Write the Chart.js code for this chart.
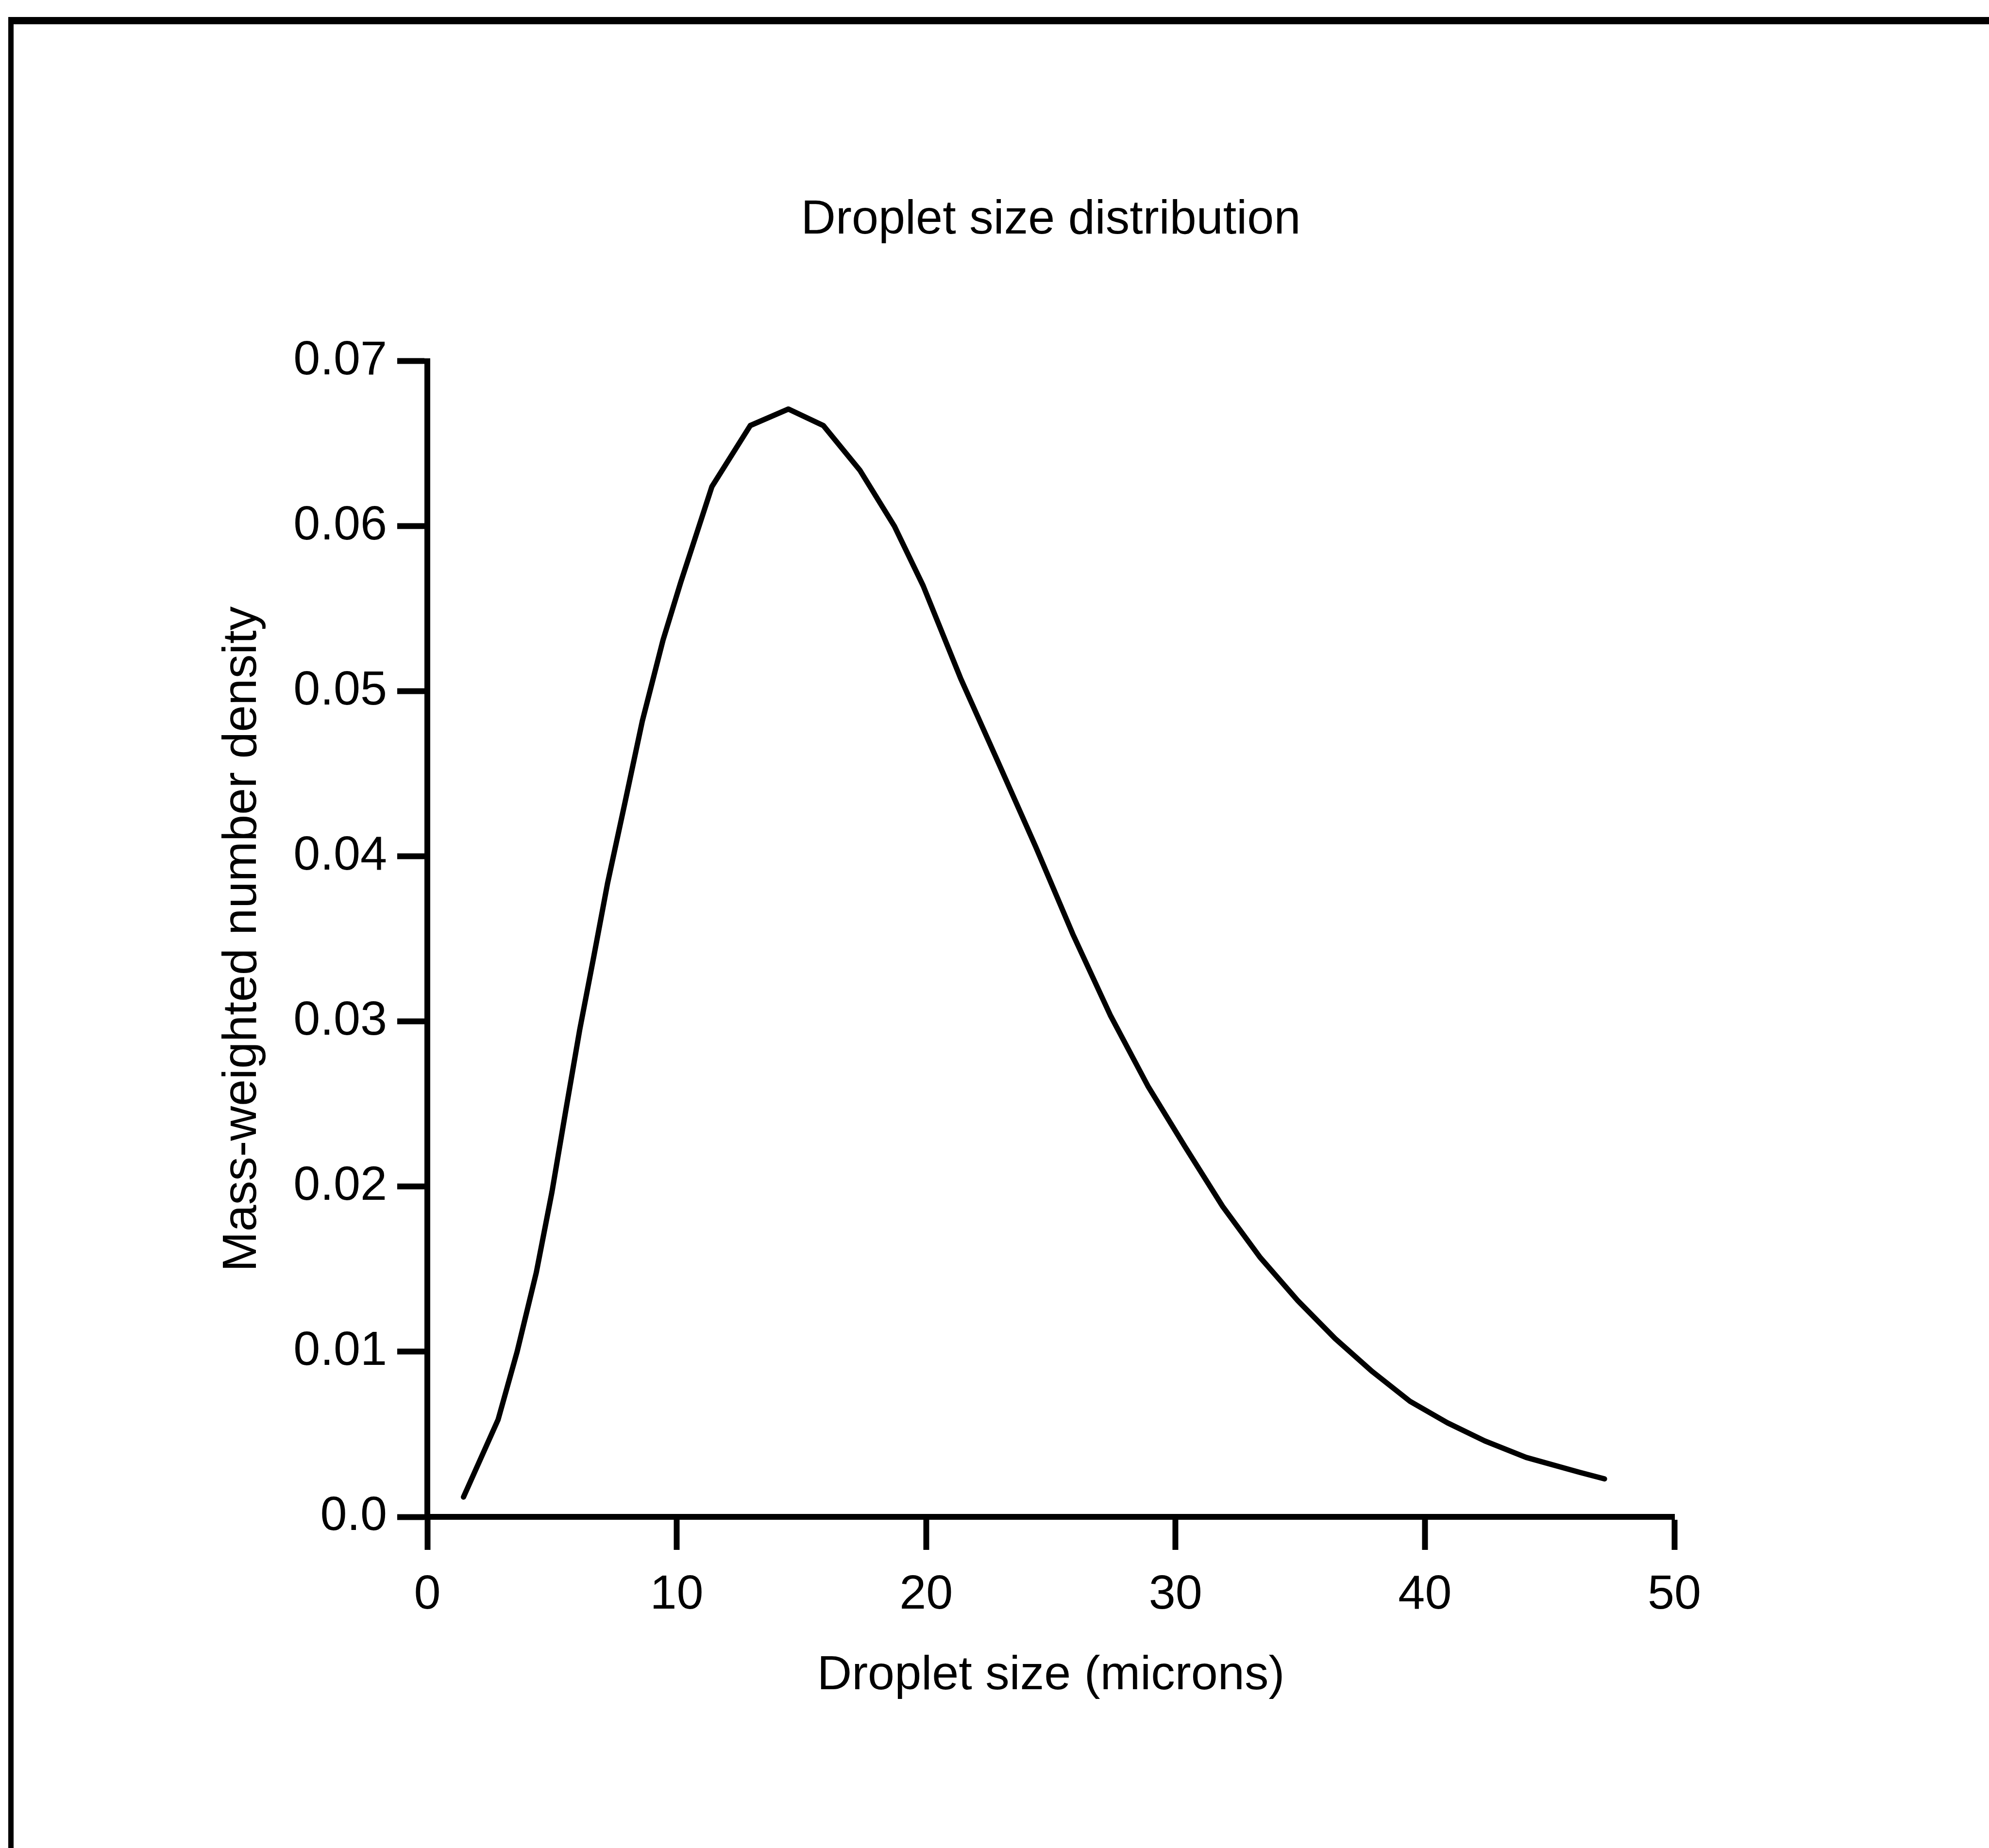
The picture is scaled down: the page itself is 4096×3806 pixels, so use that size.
<!DOCTYPE html>
<html>
<head>
<meta charset="utf-8">
<title>Droplet size distribution</title>
<script src="https://cdn.jsdelivr.net/npm/chart.js@4/dist/chart.umd.min.js"></script>
<style>
  html, body { margin: 0; padding: 0; background: #fff; overflow: hidden; }
  #wrap { position: relative; width: 4096px; height: 3806px; }
  #frame {
    position: absolute; left: 17px; top: 35px; width: 4200px; height: 3900px;
    border-left: 11px solid #000; border-top: 15px solid #000;
  }
</style>
</head>
<body>
<div id="wrap">
  <canvas id="dropChart"></canvas>
  <div id="frame"></div>
</div>
<script>
// droplet size (microns) and mass-weighted number density
var sizes = [1.45, 2.84, 3.60, 4.37, 5.00, 5.55, 6.11, 6.67, 7.23, 7.93,
  8.62, 9.45, 10.16, 10.85, 11.41, 12.95, 14.48, 15.88, 17.34,
  18.73, 19.88, 21.38, 22.89, 24.39, 25.88, 27.38, 28.89, 30.39, 31.89,
  33.40, 34.90, 36.40, 37.89, 39.40, 40.90, 42.40, 44.06, 46.20, 47.20];
var density = [0.0012, 0.0059, 0.0100, 0.0148, 0.0197, 0.0246, 0.0295, 0.0339, 0.0384, 0.0433,
  0.0482, 0.0531, 0.0566, 0.0598, 0.0624, 0.0661, 0.0671, 0.0661, 0.0634,
  0.0600, 0.0564, 0.0508, 0.0457, 0.0406, 0.0353, 0.0304, 0.0261, 0.0224, 0.0188,
  0.0157, 0.0131, 0.0108, 0.0088, 0.0070, 0.0057, 0.0046, 0.0036, 0.0027, 0.0023];

var xTickLabels = ["0", "10", "20", "30", "40", "50"];
var yTickLabels = ["0.0", "0.01", "0.02", "0.03", "0.04", "0.05", "0.06", "0.07"];

var points = sizes.map(function (s, i) { return { x: s, y: density[i] }; });

var font = { family: "'Liberation Sans', Arial, sans-serif", size: 99, weight: 'normal', lineHeight: 1.2 };

var ctx = document.getElementById('dropChart').getContext("2d");

var myChart = new Chart(ctx, {
  type: 'line',
  data: {
    datasets: [{
      label: "density",
      data: points,
      borderColor: "#000",
      borderWidth: 11,
      borderCapStyle: 'round',
      borderJoinStyle: 'round',
      pointRadius: 0,
      tension: 0,
      fill: false
    }]
  },
  options: {
    responsive: true,
    maintainAspectRatio: false,
    animation: false,
    layout: {
      padding: { left: 0, right: 648, top: 0, bottom: 0 }
    },
    plugins: {
      legend: { display: false },
      tooltip: { enabled: false },
      title: {
        display: true,
        text: "Droplet size distribution",
        fullSize: false,
        color: "#000",
        font: font,
        padding: { top: 394, bottom: 231 }
      }
    },
    scales: {
      x: {
        type: 'linear',
        min: 0,
        max: 50,
        afterFit: function (scale) { scale.height = 682; },
        border: { display: true, color: "#000", width: 12 },
        grid: { drawOnChartArea: false, drawTicks: true, tickLength: 68, tickWidth: 12, color: "#000" },
        ticks: {
          stepSize: 10,
          color: "#000",
          font: font,
          padding: 34,
          maxRotation: 0,
          callback: function (v, i) { return xTickLabels[i]; }
        },
        title: {
          display: true,
          text: "Droplet size (microns)",
          color: "#000",
          font: font,
          padding: { top: 0, bottom: 295 }
        }
      },
      y: {
        min: 0,
        max: 0.07,
        afterFit: function (scale) { scale.width = 880; },
        border: { display: true, color: "#000", width: 12 },
        grid: { drawOnChartArea: false, drawTicks: true, tickLength: 62, tickWidth: 12, color: "#000" },
        ticks: {
          stepSize: 0.01,
          color: "#000",
          font: font,
          padding: 21,
          callback: function (v, i) { return yTickLabels[i]; }
        },
        title: {
          display: true,
          text: "Mass-weighted number density",
          color: "#000",
          font: font,
          padding: { top: 440, bottom: 0 }
        }
      }
    }
  }
});
</script>
</body>
</html>
